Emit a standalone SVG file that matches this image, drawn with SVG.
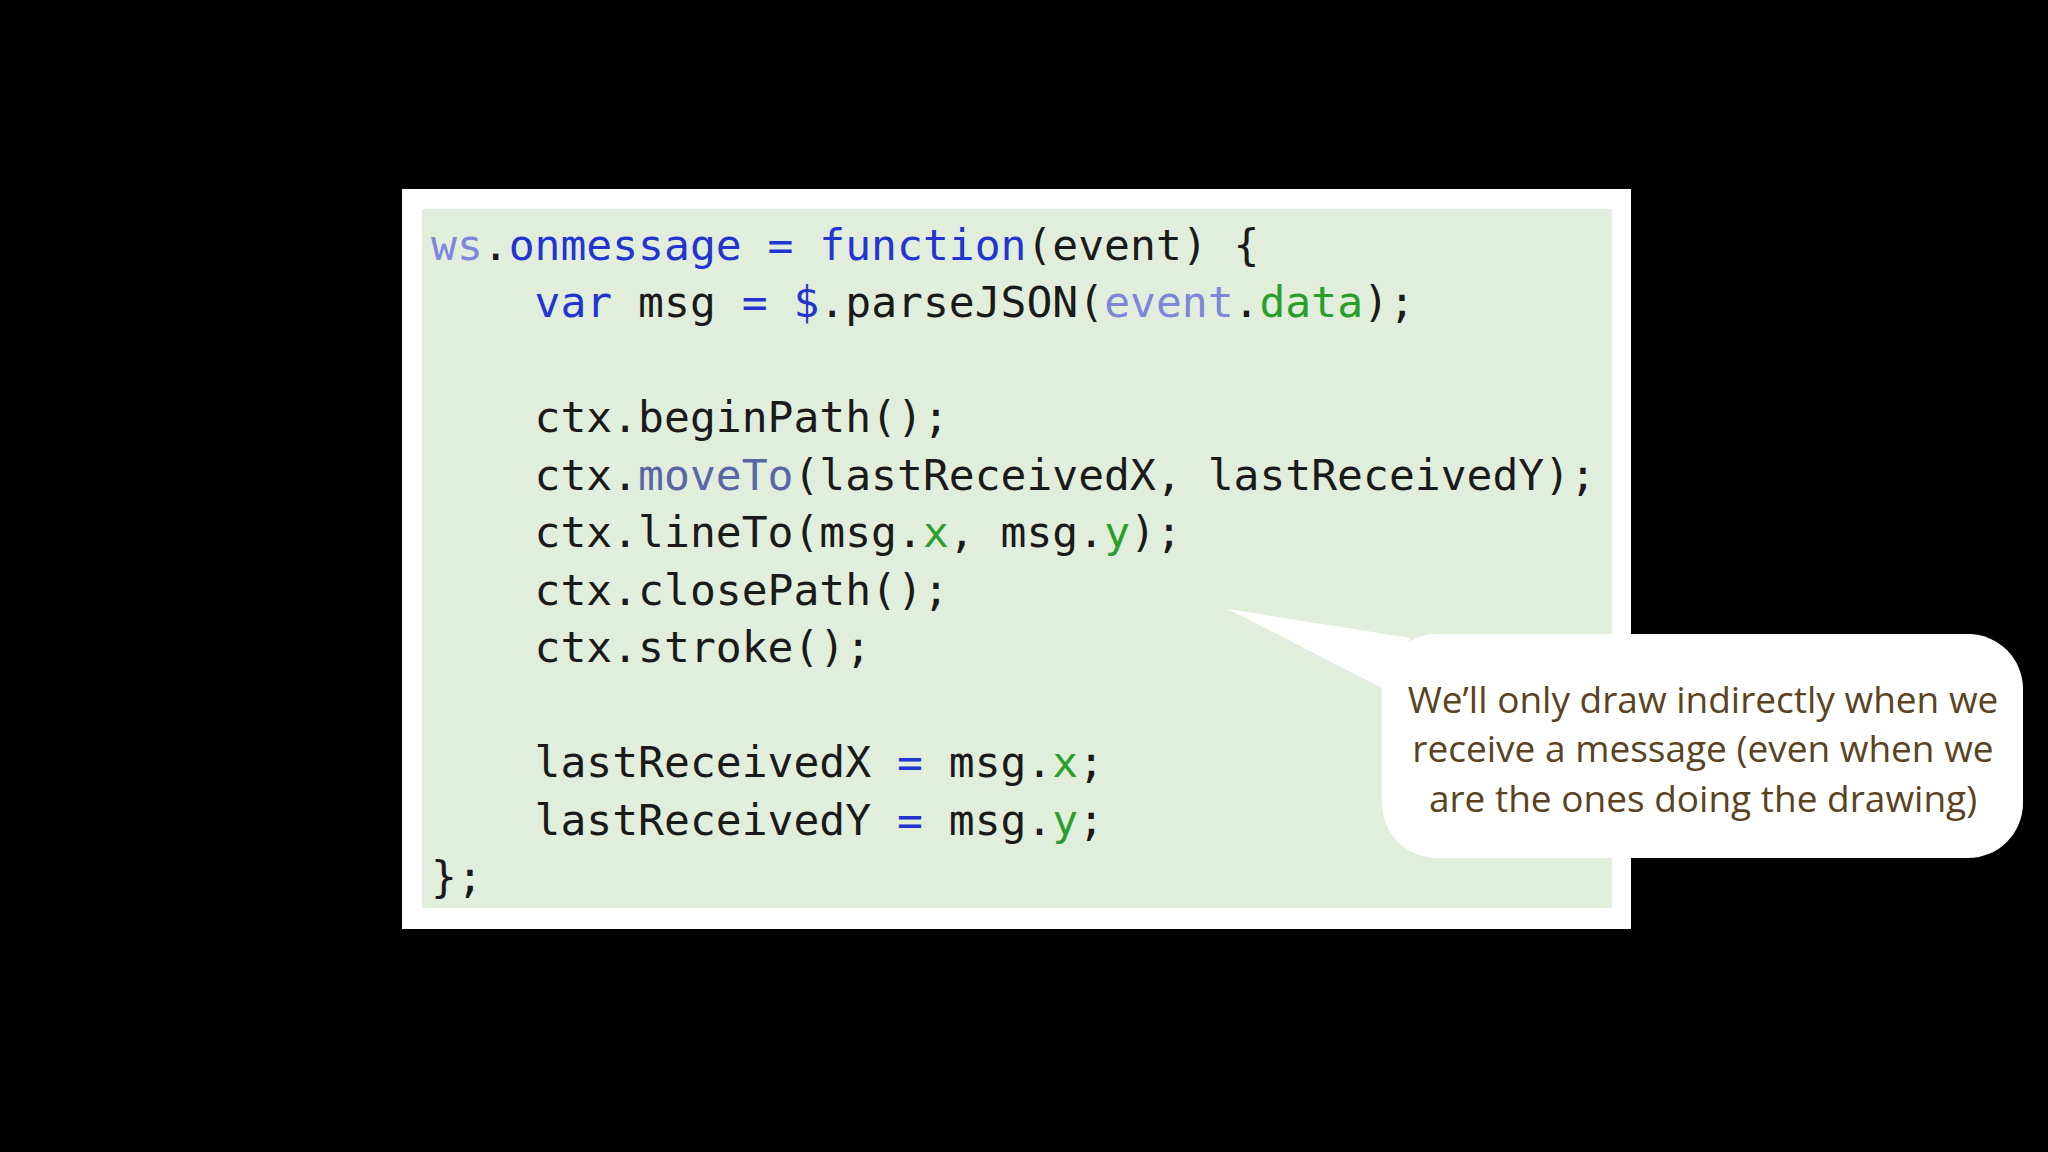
<svg xmlns="http://www.w3.org/2000/svg" width="2048" height="1152" viewBox="0 0 2048 1152">
<style>
.c{font-family:"DejaVu Sans Mono","Liberation Mono",monospace;font-size:43px;fill:#1a1a1a;white-space:pre}
.k{fill:#2434d0}.l{fill:#7c86dc}.m{fill:#5866a8}.g{fill:#2a9e2a}
.t{font-family:"Open Sans","Liberation Sans",sans-serif;font-size:37px;fill:#5a4322;text-anchor:middle}
</style>
<rect width="2048" height="1152" fill="#000"/>
<g id="code">
<rect x="402" y="189" width="1229" height="740" fill="#fff"/>
<rect x="422" y="209" width="1190" height="699" fill="#e2eedc"/>
<text class="c" xml:space="preserve">
<tspan x="431" y="260"><tspan class="l">ws</tspan>.<tspan class="k">onmessage</tspan> <tspan class="k">=</tspan> <tspan class="k">function</tspan>(event) {</tspan>
<tspan x="431" y="317">    <tspan class="k">var</tspan> msg <tspan class="k">=</tspan> <tspan class="k">$</tspan>.parseJSON(<tspan class="l">event</tspan>.<tspan class="g">data</tspan>);</tspan>
<tspan x="431" y="432">    ctx.beginPath();</tspan>
<tspan x="431" y="490">    ctx.<tspan class="m">moveTo</tspan>(lastReceivedX, lastReceivedY);</tspan>
<tspan x="431" y="547">    ctx.lineTo(msg.<tspan class="g">x</tspan>, msg.<tspan class="g">y</tspan>);</tspan>
<tspan x="431" y="605">    ctx.closePath();</tspan>
<tspan x="431" y="662">    ctx.stroke();</tspan>
<tspan x="431" y="777">    lastReceivedX <tspan class="k">=</tspan> msg.<tspan class="g">x</tspan>;</tspan>
<tspan x="431" y="835">    lastReceivedY <tspan class="k">=</tspan> msg.<tspan class="g">y</tspan>;</tspan>
<tspan x="431" y="892">};</tspan>
</text>
</g>
<g id="callout">
<rect x="1382" y="634" width="641" height="224" rx="55" fill="#fff"/>
<polygon points="1228,609 1410,638 1386,690" fill="#fff"/>
<text class="t"><tspan x="1703" y="713">We’ll only draw indirectly when we</tspan><tspan x="1703" y="762">receive a message (even when we</tspan><tspan x="1703" y="812">are the ones doing the drawing)</tspan></text>
</g>
</svg>
